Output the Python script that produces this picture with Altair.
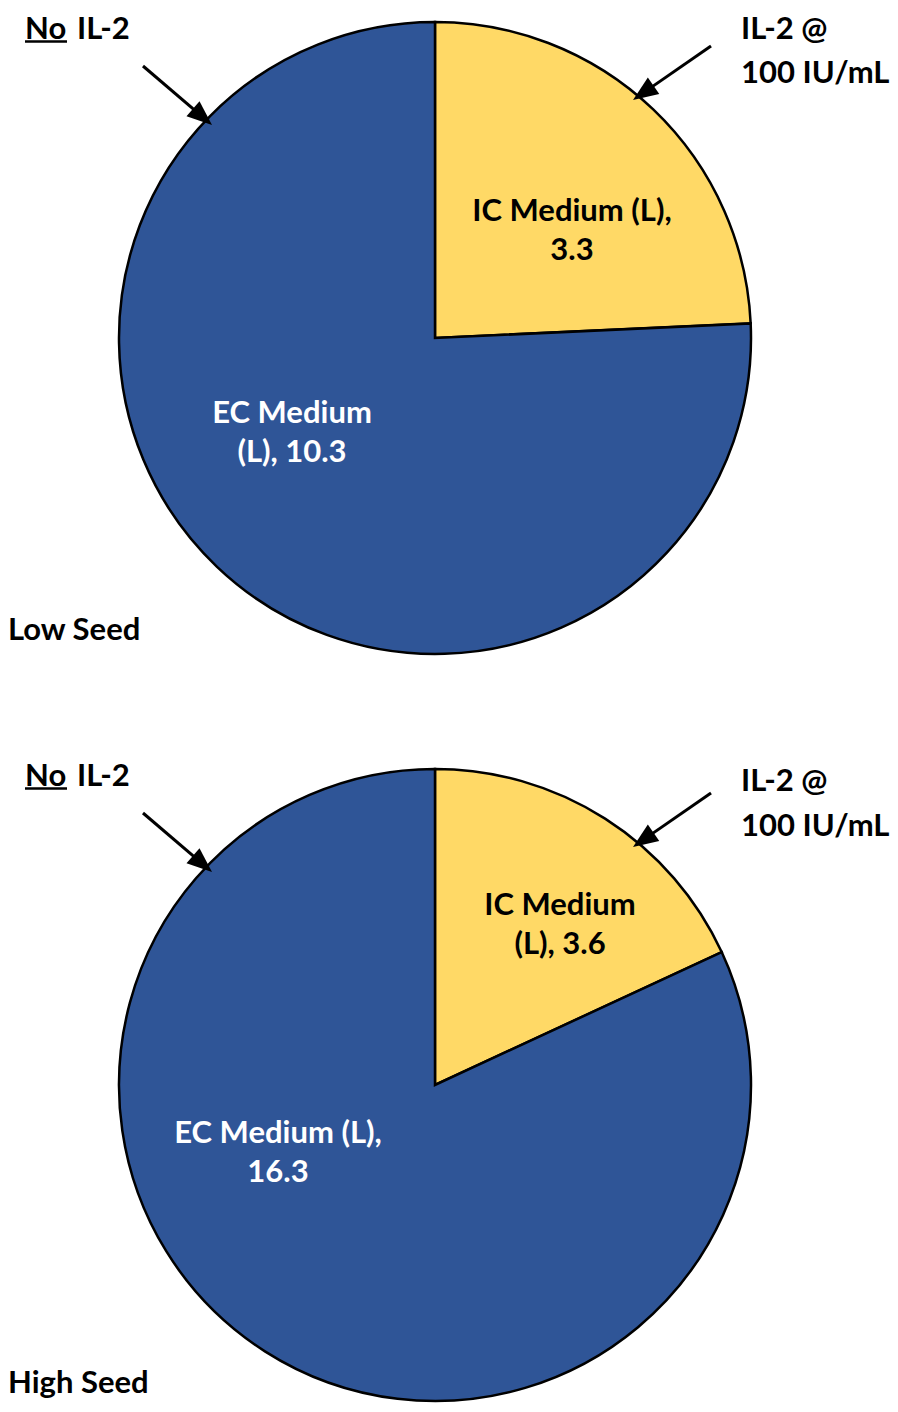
import altair as alt
import pandas as pd
import math

# ---------------- data ----------------
categories = ["IC Medium", "EC Medium"]
low_seed_values = [3.3, 10.3]
high_seed_values = [3.6, 16.3]
panel_titles = ["Low Seed", "High Seed"]
left_note = ["No", "IL-2"]            # "No" is underlined
right_note = ["IL-2 @", "100 IU/mL"]
unit = "(L),"

# ---------------- style / layout ----------------
slice_colors = ["#FFD966", "#2F5597"]
label_colors = ["black", "white"]
FONT = "Lato"
FS = 31
LINE_H = 39
W, H = 882, 1396
R = 316
M = 8  # page margin


def pg(x, y, shift=0):
    """convert page coords (reference picture) to chart coords"""
    return x - M, y - M - shift


def make_label(cat, val, wrap):
    words = f"{cat} {unit} {val:.1f}".split(" ")
    return " ".join(words[:wrap]) + "\n" + " ".join(words[wrap:])


def text_layer(txt, x, y, color="black", align="left"):
    df = pd.DataFrame({"t": [txt]})
    return alt.Chart(df).mark_text(
        font=FONT, fontSize=FS, fontWeight="bold", color=color, align=align,
        baseline="alphabetic", lineBreak="\n", lineHeight=LINE_H,
    ).encode(x=alt.value(x), y=alt.value(y), text="t:N")


def arrow_layers(tail, tip):
    (x1, y1), (x2, y2) = tail, tip
    dx, dy = x2 - x1, y2 - y1
    L = (dx ** 2 + dy ** 2) ** 0.5
    ux, uy = dx / L, dy / L
    hl = 12.5
    hx, hy = x2 - hl * ux, y2 - hl * uy
    ang = math.degrees(math.atan2(ux, -uy)) % 360
    df = pd.DataFrame({"a": [0]})
    line = alt.Chart(df).mark_rule(color="black", strokeWidth=3).encode(
        x=alt.value(x1), y=alt.value(y1), x2=alt.value(hx), y2=alt.value(hy))
    head = alt.Chart(df).mark_point(
        shape="M0,-1L0.8,1L-0.8,1Z", size=625, filled=True, color="black",
        opacity=1, angle=ang, strokeWidth=0,
    ).encode(x=alt.value(hx), y=alt.value(hy))
    return [line, head]


def pie(values, center):
    df = pd.DataFrame({"category": categories, "value": values, "order": [0, 1]})
    return alt.Chart(df).mark_arc(radius=R, stroke="black", strokeWidth=2.5).encode(
        theta=alt.Theta("value:Q", stack=True),
        order=alt.Order("order:Q"),
        color=alt.Color("category:N",
                        scale=alt.Scale(domain=categories, range=slice_colors),
                        legend=None),
        x=alt.value(center[0]), y=alt.value(center[1]),
    )


layers = []
groups = [
    # values, page y offset, pie shift, label wraps, label positions (page), title baseline,
    # note baselines (left, right line 1, right line 2)
    (low_seed_values, 0, 0, [3, 2], [(572, 221), (292, 423)], 640, (39, 39, 83)),
    (high_seed_values, 754, 7, [2, 3], [(560, 922), (278, 1150)], 1393, (786, 791, 836)),
]
for gi, (vals, off, sh, wraps, lpos, title_base, nb) in enumerate(groups):
    layers.append(pie(vals, pg(435, 338 + off, sh)))
    for ci, cat in enumerate(categories):
        lx, ly = pg(lpos[ci][0], lpos[ci][1], sh)
        layers.append(text_layer(make_label(cat, vals[ci], wraps[ci]), lx, ly,
                                 color=label_colors[ci], align="center"))
    # arrows
    layers += arrow_layers(pg(143, 66 + off, sh), pg(212, 125 + off, sh))
    layers += arrow_layers(pg(711, 46 + off, sh), pg(633, 100 + off, sh))
    # notes
    nx, ny = pg(25, nb[0])
    layers.append(text_layer(left_note[0], nx, ny))
    ux1, uy = pg(25, nb[0] + 2.5)
    ux2, _ = pg(67, nb[0] + 2.5)
    layers.append(alt.Chart(pd.DataFrame({"a": [0]})).mark_rule(
        color="black", strokeWidth=2.5).encode(
        x=alt.value(ux1), x2=alt.value(ux2), y=alt.value(uy), y2=alt.value(uy)))
    ix, iy = pg(77, nb[0])
    layers.append(text_layer(left_note[1], ix, iy))
    rx, ry = pg(741, nb[1])
    layers.append(text_layer(right_note[0], rx, ry))
    rx2, ry2 = pg(741, nb[2])
    layers.append(text_layer(right_note[1], rx2, ry2))
    # title
    layers.append(text_layer(panel_titles[gi], 0, title_base - M))

chart = alt.layer(*layers).resolve_scale(theta="independent").properties(
    width=W, height=H, padding=0,
    autosize=alt.AutoSizeParams(type="none"),
).configure_view(stroke=None)

chart.save("out.html", embed_options={"renderer": "svg", "actions": False})
